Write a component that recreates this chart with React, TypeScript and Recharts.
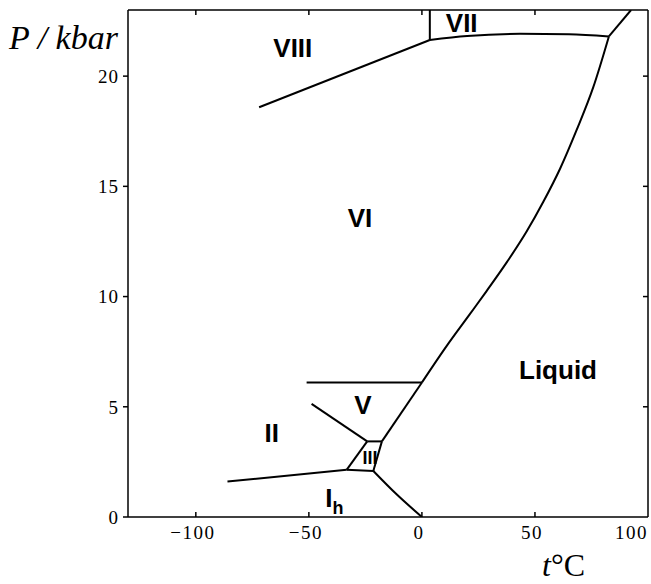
import { ComposedChart, Line, Scatter, XAxis, YAxis, Label } from 'recharts'

type Pt = { t: number; p: number }

// Phase boundaries of ice: t in °C, P in kbar
const ihLiquid: Pt[] = [{ t: -21.5, p: 2.09 }, { t: -11.2, p: 1.03 }, { t: 0, p: 0 }]
const ihII: Pt[] = [{ t: -86, p: 1.61 }, { t: -33.3, p: 2.14 }]
const ihIII: Pt[] = [{ t: -33.3, p: 2.14 }, { t: -21.5, p: 2.09 }]
const iiIII: Pt[] = [{ t: -33.3, p: 2.14 }, { t: -24.2, p: 3.43 }]
const iiV: Pt[] = [{ t: -48.8, p: 5.13 }, { t: -24.2, p: 3.43 }]
const iiiV: Pt[] = [{ t: -24.2, p: 3.43 }, { t: -17.7, p: 3.43 }]
const iiiLiquid: Pt[] = [{ t: -21.5, p: 2.09 }, { t: -17.7, p: 3.43 }]
const vLiquid: Pt[] = [{ t: -17.7, p: 3.43 }, { t: 0, p: 6.1 }]
const vVI: Pt[] = [{ t: -51, p: 6.1 }, { t: 0, p: 6.1 }]
const viLiquid: Pt[] = [
  { t: 0, p: 6.1 }, { t: 10.9, p: 7.75 }, { t: 21.2, p: 9.2 }, { t: 28.6, p: 10.25 },
  { t: 37.5, p: 11.55 }, { t: 46.3, p: 12.95 }, { t: 53.7, p: 14.3 }, { t: 61.1, p: 15.8 },
  { t: 68.4, p: 17.55 }, { t: 75.8, p: 19.5 }, { t: 82.7, p: 21.8 },
]
const viiVI: Pt[] = [
  { t: 3.5, p: 21.64 }, { t: 20, p: 21.82 }, { t: 43.4, p: 21.92 }, { t: 65, p: 21.9 }, { t: 82.7, p: 21.8 },
]
const viiLiquid: Pt[] = [{ t: 82.7, p: 21.8 }, { t: 92.5, p: 23 }]
const viiVIII: Pt[] = [{ t: 3.5, p: 21.64 }, { t: 3.5, p: 23 }]
const viiiVI: Pt[] = [{ t: -72, p: 18.59 }, { t: 3.5, p: 21.64 }]

const boundaries = [
  { id: 'ih-liq', data: ihLiquid, curve: 'monotone' },
  { id: 'ih-ii', data: ihII, curve: 'linear' },
  { id: 'ih-iii', data: ihIII, curve: 'linear' },
  { id: 'ii-iii', data: iiIII, curve: 'linear' },
  { id: 'ii-v', data: iiV, curve: 'linear' },
  { id: 'iii-v', data: iiiV, curve: 'linear' },
  { id: 'iii-liq', data: iiiLiquid, curve: 'linear' },
  { id: 'v-liq', data: vLiquid, curve: 'linear' },
  { id: 'v-vi', data: vVI, curve: 'linear' },
  { id: 'vi-liq', data: viLiquid, curve: 'monotone' },
  { id: 'vii-vi', data: viiVI, curve: 'monotone' },
  { id: 'vii-liq', data: viiLiquid, curve: 'linear' },
  { id: 'vii-viii', data: viiVIII, curve: 'linear' },
  { id: 'viii-vi', data: viiiVI, curve: 'linear' },
] as const

// phase names placed inside their regions
const regions = [
  { t: -57.1, p: 21.28, name: 'VIII', size: 26 },
  { t: 17.6, p: 22.41, name: 'VII', size: 26 },
  { t: -27.4, p: 13.57, name: 'VI', size: 26 },
  { t: 60.2, p: 6.67, name: 'Liquid', size: 26 },
  { t: -26.1, p: 5.08, name: 'V', size: 26 },
  { t: -66.4, p: 3.81, name: 'II', size: 26 },
  { t: -23, p: 2.72, name: 'III', size: 18 },
  { t: -38.7, p: 0.88, name: 'I', sub: 'h', size: 26 },
]

const tTicks = [-100, -50, 0, 50, 100]
const pTicks = [0, 5, 10, 15, 20]

const SERIF = '"Liberation Serif", "DejaVu Serif", serif'
const SANS = '"Liberation Sans", Arial, sans-serif'

const fmt = (v: number) => (v < 0 ? `\u2212${Math.abs(v)}` : String(v))

function BottomTick({ x, y, payload }: any) {
  const v = payload.value
  return (
    <g>
      {v !== 100 && <line x1={x} y1={y} x2={x} y2={y - 5} stroke="#000" strokeWidth={1.5} />}
      <text x={v === 100 ? x : x - 3} y={y + 22} textAnchor={v === 100 ? 'end' : 'middle'}
        fontFamily={SERIF} fontSize={19} letterSpacing={1.5} fill="#000">
        {fmt(v)}
      </text>
    </g>
  )
}

// inward ticks on the top and right frame
function TopTick({ x, y, payload }: any) {
  if (payload.value === 100) return <g />
  return <line x1={x} y1={y} x2={x} y2={y + 5} stroke="#000" strokeWidth={1.5} />
}

function RightTick({ x, y, payload }: any) {
  if (payload.value === 0) return <g />
  return <line x1={x} y1={y} x2={x - 5} y2={y} stroke="#000" strokeWidth={1.5} />
}

function RegionName(props: any) {
  const { cx, cy, payload } = props
  return (
    <text x={cx} y={cy} dy="0.36em" textAnchor="middle" fontFamily={SANS} fontWeight="bold"
      fontSize={payload.size} fill="#000">
      {payload.name}
      {payload.sub && <tspan fontSize={18} dy={7}>{payload.sub}</tspan>}
    </text>
  )
}

const axisStroke = { stroke: '#000', strokeWidth: 1.5 }

export default function App() {
  return (
    <div style={{ position: 'absolute', left: 0, top: 0 }}>
      <ComposedChart width={651} height={584} margin={{ top: 9, right: 2, bottom: 37, left: 68 }}>
        <XAxis xAxisId={0} dataKey="t" type="number" domain={[-130, 100]} allowDataOverflow
          ticks={tTicks} interval={0} height={30} tickSize={0} tickMargin={0}
          axisLine={axisStroke} tickLine={false} tick={<BottomTick />}>
          <Label content={() => (
            <text x={542} y={576} fontFamily={SERIF} fontSize={32} fill="#000">
              <tspan fontStyle="italic">t</tspan>°C
            </text>
          )} />
        </XAxis>
        <XAxis xAxisId="top" orientation="top" dataKey="t" type="number" domain={[-130, 100]}
          allowDataOverflow ticks={tTicks} interval={0} height={1} tickSize={0} tickMargin={0}
          axisLine={axisStroke} tickLine={false} tick={<TopTick />} />
        <YAxis yAxisId={0} type="number" domain={[0, 23]} allowDataOverflow ticks={pTicks} interval={0}
          width={60} tickSize={5} tickMargin={4} axisLine={axisStroke} tickLine={axisStroke}
          tick={{ fill: '#000', fontSize: 19, fontFamily: SERIF, letterSpacing: 1 }}>
          <Label content={() => (
            <text x={9} y={49} fontFamily={SERIF} fontSize={34} fontStyle="italic" fill="#000">
              P / kbar
            </text>
          )} />
        </YAxis>
        <YAxis yAxisId="right" orientation="right" type="number" domain={[0, 23]} allowDataOverflow
          ticks={pTicks} interval={0} width={1} tickSize={0} tickMargin={0}
          axisLine={axisStroke} tickLine={false} tick={<RightTick />} />
        {boundaries.map((b) => (
          <Line key={b.id} data={b.data as Pt[]} dataKey="p" type={b.curve} stroke="#000" strokeWidth={2}
            dot={false} activeDot={false} isAnimationActive={false} />
        ))}
        <Scatter data={regions} dataKey="p" shape={RegionName} isAnimationActive={false} />
      </ComposedChart>
    </div>
  )
}
